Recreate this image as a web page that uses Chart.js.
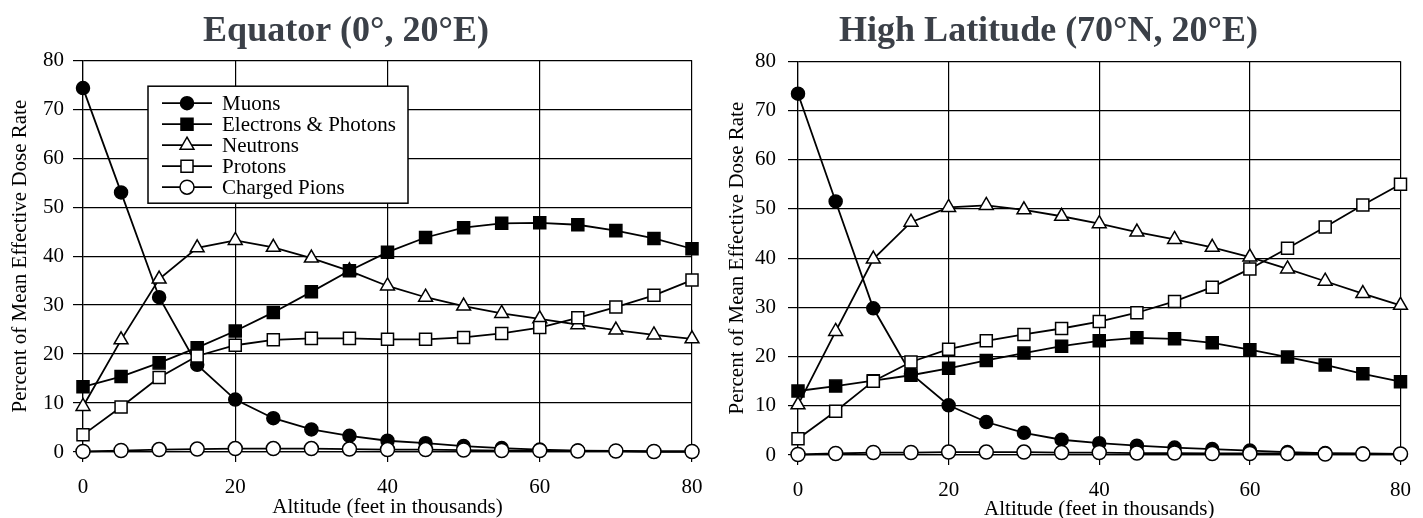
<!DOCTYPE html>
<html>
<head>
<meta charset="utf-8">
<script src="https://cdn.jsdelivr.net/npm/chart.js@4/dist/chart.umd.min.js"></script>
<style>
  html, body { margin: 0; padding: 0; background: #fff; overflow: hidden; }
  #wrap { position: relative; width: 1423px; height: 518px; }
  canvas { position: absolute; top: 0; }
  #left { left: 0; }
  #right { left: 688px; }
</style>
</head>
<body>
<div id="wrap">
  <canvas id="left" width="736" height="518"></canvas>
  <canvas id="right" width="736" height="518"></canvas>
</div>
<script>
const altitude = [0, 5, 10, 15, 20, 25, 30, 35, 40, 45, 50, 55, 60, 65, 70, 75, 80];

// Equator (0°, 20°E)
const eqMuons     = [74.3, 53.0, 31.6, 17.8, 10.7, 6.9, 4.6, 3.3, 2.3, 1.8, 1.2, 0.8, 0.5, 0.3, 0.2, 0.1, 0.1];
const eqElectrons = [13.3, 15.4, 18.2, 21.3, 24.7, 28.5, 32.7, 37.0, 40.8, 43.8, 45.8, 46.7, 46.8, 46.4, 45.2, 43.6, 41.5];
const eqNeutrons  = [9.3, 22.9, 35.3, 41.7, 43.2, 41.8, 39.6, 37.0, 33.9, 31.6, 29.8, 28.3, 27.2, 26.0, 24.9, 23.9, 23.1];
const eqProtons   = [3.5, 9.2, 15.2, 19.6, 21.8, 22.9, 23.2, 23.2, 23.0, 23.0, 23.4, 24.2, 25.4, 27.4, 29.6, 32.0, 35.1];
const eqPions     = [0.1, 0.3, 0.5, 0.6, 0.7, 0.7, 0.7, 0.6, 0.5, 0.5, 0.4, 0.3, 0.3, 0.2, 0.2, 0.1, 0.1];

// High Latitude (70°N, 20°E)
const hlMuons     = [73.4, 51.5, 29.8, 16.5, 10.1, 6.7, 4.5, 3.1, 2.4, 1.9, 1.5, 1.2, 0.9, 0.6, 0.4, 0.3, 0.2];
const hlElectrons = [13.0, 14.0, 15.1, 16.2, 17.6, 19.2, 20.7, 22.1, 23.2, 23.8, 23.6, 22.8, 21.4, 19.9, 18.3, 16.5, 14.9];
const hlNeutrons  = [10.2, 25.1, 39.8, 47.3, 50.3, 50.7, 49.8, 48.5, 47.0, 45.3, 43.8, 42.2, 40.2, 37.8, 35.3, 32.8, 30.4];
const hlProtons   = [3.3, 8.9, 15.0, 18.9, 21.5, 23.2, 24.5, 25.7, 27.1, 28.9, 31.2, 34.1, 37.8, 42.0, 46.3, 50.8, 55.0];
const hlPions     = [0.1, 0.3, 0.5, 0.5, 0.6, 0.6, 0.6, 0.5, 0.5, 0.4, 0.4, 0.3, 0.3, 0.3, 0.2, 0.2, 0.2];

const seriesLabels = ['Muons', 'Electrons & Photons', 'Neutrons', 'Protons', 'Charged Pions'];
const xTicks = [0, 20, 40, 60, 80];
const yTicks = [0, 10, 20, 30, 40, 50, 60, 70, 80];

const serif = "'Liberation Serif', 'Times New Roman', serif";

// marker look per series, in legend order
const markers = [
    { pointStyle: 'circle',   pointRadius: 6.5, pointBackgroundColor: '#000', order: 5 },
    { pointStyle: 'rect',     pointRadius: 8.5, pointBackgroundColor: '#000', order: 3 },
    { pointStyle: 'triangle', pointRadius: 8,   pointBackgroundColor: '#fff', order: 4 },
    { pointStyle: 'rect',     pointRadius: 8.5, pointBackgroundColor: '#fff', order: 2 },
    { pointStyle: 'circle',   pointRadius: 7,   pointBackgroundColor: '#fff', order: 1 }
];

function buildDatasets(seriesValues) {
    return seriesValues.map((vals, i) => ({
        label: seriesLabels[i],
        data: altitude.map((a, j) => ({ x: a, y: vals[j] })),
        borderColor: '#000',
        borderWidth: 1.8,
        pointBorderColor: '#000',
        pointBorderWidth: 1.5,
        pointStyle: markers[i].pointStyle,
        pointRadius: markers[i].pointRadius,
        pointBackgroundColor: markers[i].pointBackgroundColor,
        order: markers[i].order,
        tension: 0,
        fill: false,
        clip: false
    }));
}

// legend box drawn inside the plot area (left chart only)
const insideLegend = {
    id: 'insideLegend',
    afterDraw(chart, args, opts) {
        if (!opts.show) return;
        const ctx = chart.ctx;
        const a = chart.chartArea;
        const bx = a.left + 65, by = a.top + 26, bw = 260, bh = 117;
        ctx.save();
        ctx.fillStyle = '#fff';
        ctx.strokeStyle = '#000';
        ctx.lineWidth = 1.5;
        ctx.fillRect(bx, by, bw, bh);
        ctx.strokeRect(bx, by, bw, bh);
        ctx.font = '21px ' + serif;
        ctx.textBaseline = 'middle';
        chart.data.datasets.forEach((ds, i) => {
            const y = by + 17 + i * 21;
            ctx.strokeStyle = '#000';
            ctx.lineWidth = 1.8;
            ctx.beginPath();
            ctx.moveTo(bx + 14, y);
            ctx.lineTo(bx + 64, y);
            ctx.stroke();
            ctx.fillStyle = ds.pointBackgroundColor;
            ctx.lineWidth = 1.5;
            Chart.helpers.drawPoint(ctx, {
                pointStyle: ds.pointStyle,
                radius: ds.pointRadius,
                borderWidth: 1.5,
                rotation: 0
            }, bx + 39, y);
            ctx.fillStyle = '#000';
            ctx.fillText(ds.label, bx + 74, y + 1);
        });
        ctx.restore();
    }
};

function makeOptions(titleText, cfg) {
    return {
        responsive: false,
        animation: false,
        devicePixelRatio: 1,
        layout: { padding: { left: 0, right: cfg.padRight, top: 0, bottom: 0 } },
        plugins: {
            legend: { display: false },
            tooltip: { enabled: false },
            title: {
                display: true,
                text: titleText,
                color: '#3b4048',
                font: { family: serif, size: 36, weight: 'bold', lineHeight: 1.2 },
                padding: { top: 10, bottom: cfg.titleBottom }
            },
            insideLegend: { show: cfg.legend }
        },
        scales: {
            x: {
                type: 'linear',
                min: 0,
                max: 80,
                afterBuildTicks: (s) => { s.ticks = xTicks.map(v => ({ value: v })); },
                afterFit: (s) => { s.height = 518 - cfg.bottom; },
                grid: { color: '#000', lineWidth: 1.2, tickLength: 10, tickColor: '#000' },
                border: { color: '#000', width: 1.2 },
                ticks: { color: '#000', padding: 13, font: { family: serif, size: 21 }, maxRotation: 0 },
                title: {
                    display: true,
                    text: 'Altitude (feet in thousands)',
                    color: '#000',
                    font: { family: serif, size: 21, lineHeight: 0.6 },
                    padding: { top: 0, bottom: cfg.xTitlePad }
                }
            },
            y: {
                min: 0,
                max: 80,
                afterBuildTicks: (s) => { s.ticks = yTicks.map(v => ({ value: v })); },
                afterFit: (s) => { s.width = cfg.left; },
                grid: { color: '#000', lineWidth: 1.2, tickLength: 10, tickColor: '#000' },
                border: { color: '#000', width: 1.2 },
                ticks: { color: '#000', padding: cfg.yTickPad, font: { family: serif, size: 21 } },
                title: {
                    display: true,
                    text: 'Percent of Mean Effective Dose Rate',
                    color: '#000',
                    font: { family: serif, size: 21, lineHeight: 0.6 },
                    padding: { top: cfg.yTitlePad, bottom: 0 }
                }
            }
        }
    };
}

new Chart(document.getElementById('left'), {
    type: 'line',
    data: { datasets: buildDatasets([eqMuons, eqElectrons, eqNeutrons, eqProtons, eqPions]) },
    options: makeOptions('Equator (0°, 20°E)', {
        left: 83, padRight: 44, bottom: 452, titleBottom: 7,
        xTitlePad: 4, yTitlePad: 14, yTickPad: 9, legend: true
    }),
    plugins: [insideLegend]
});

new Chart(document.getElementById('right'), {
    type: 'line',
    data: { datasets: buildDatasets([hlMuons, hlElectrons, hlNeutrons, hlProtons, hlPions]) },
    options: makeOptions('High Latitude (70°N, 20°E)', {
        left: 110, padRight: 15, bottom: 455, titleBottom: 8,
        xTitlePad: 2, yTitlePad: 43, yTickPad: 12, legend: false
    }),
    plugins: [insideLegend]
});
</script>
</body>
</html>
